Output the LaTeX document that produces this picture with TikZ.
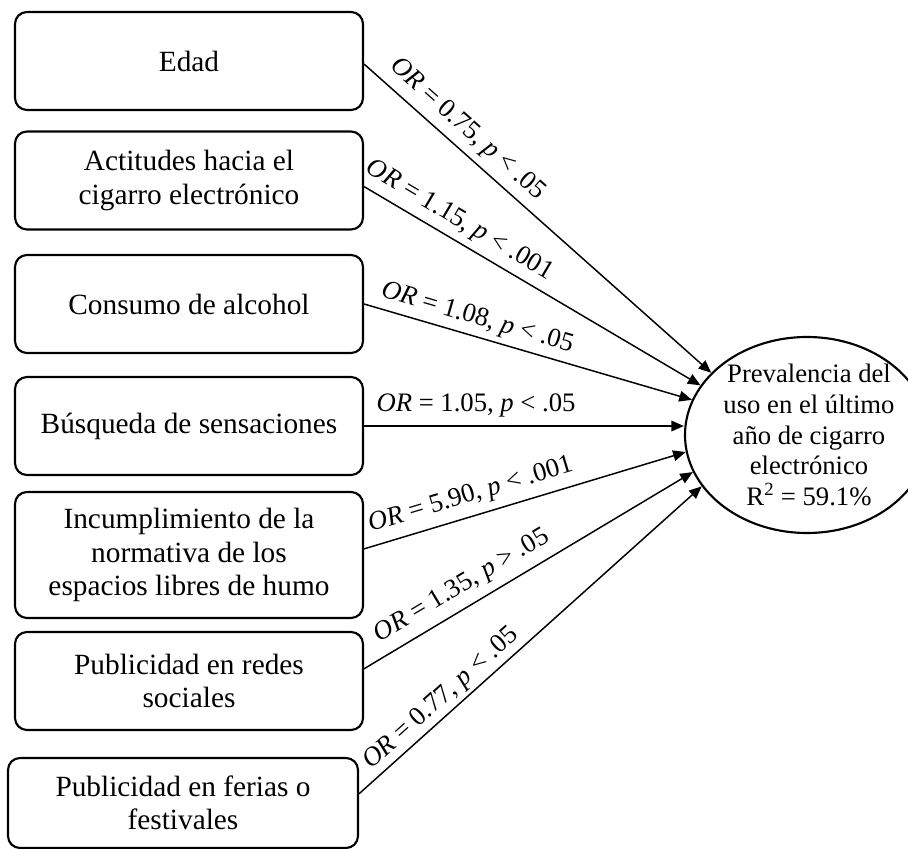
\documentclass[tikz,border=0pt]{standalone}
\usepackage{fontspec}
\setmainfont{Liberation Serif}
\usetikzlibrary{arrows.meta,shapes.geometric}
\begin{document}
\begin{tikzpicture}[x=0.75pt,y=-0.75pt,
  factor/.style={draw, line width=1.6pt, rounded corners=9pt, align=center,
    inner sep=0pt, minimum width=261pt, minimum height=73.5pt,
    font=\fontsize{22pt}{25pt}\selectfont},
  outcome/.style={draw, ellipse, line width=1.6pt, inner sep=0pt,
    minimum width=183pt, minimum height=147pt},
  outcometext/.style={align=center, inner sep=0pt,
    font=\fontsize{20pt}{23pt}\selectfont},
  link/.style={line width=1.1pt, -{Triangle[length=9.5pt,width=8pt]}},
  coef/.style={sloped, above, font=\fontsize{20pt}{22pt}\selectfont}
]
\useasboundingbox (0,0) rectangle (908,849);
\clip (0,0) rectangle (908,849);

% predictor boxes
\node[factor] (b1) at (189,61) {Edad};
\node[factor] (b2) at (189,180.5) {Actitudes hacia el\\cigarro electrónico};
\node[factor] (b3) at (189,304) {Consumo de alcohol};
\node[factor] (b4) at (189,426) {Búsqueda de sensaciones};
\node[factor, minimum height=94.5pt] (b5) at (189,555)
  {Incumplimiento de la\\normativa de los\\espacios libres de humo};
\node[factor] (b6) at (189,681) {Publicidad en redes\\sociales};
\node[factor, minimum width=262.5pt, minimum height=67.5pt] (b7) at (183,803)
  {Publicidad en ferias o\\festivales};

% outcome
\node[outcome] (out) at (807,435) {};
\node[outcometext] (outlabel) at (809,435)
  {Prevalencia del\\uso en el último\\año de cigarro\\electrónico\\R\textsuperscript{2} = 59.1\%};

% paths with odds ratios
\draw[link] (b1.-1.3) -- node[coef, pos=0.26, inner sep=5.5pt]
  {\textit{OR} = 0.75, \textit{p} < .05} (out.147.7);
\draw[link] (b2.-2.1) -- node[coef, pos=0.254, inner sep=5pt]
  {\textit{OR} = 1.15, \textit{p} < .001} (out.155.1);
\draw[link] (b3.east) -- node[coef, pos=0.33, inner sep=4pt]
  {\textit{OR} = 1.08, \textit{p} < .05} (out.163.8);
\draw[link] (b4.east) -- node[coef, pos=0.35, inner sep=6.3pt]
  {\textit{OR} = 1.05, \textit{p} < .05} (b4.east -| out.west);
\draw[link] (b5.2.6) -- node[coef, pos=0.35, inner sep=6pt]
  {\textit{OR} = 5.90, \textit{p} < .001} (out.188.1);
\draw[link] (b6.4.6) -- node[coef, pos=0.33, inner sep=6pt]
  {\textit{OR} = 1.35, \textit{p} > .05} (out.198.7);
\draw[link] (b7.3.3) -- node[coef, pos=0.27, inner sep=2.5pt]
  {\textit{OR} = 0.77, \textit{p} < .05} (out.206.1);
\end{tikzpicture}
\end{document}
